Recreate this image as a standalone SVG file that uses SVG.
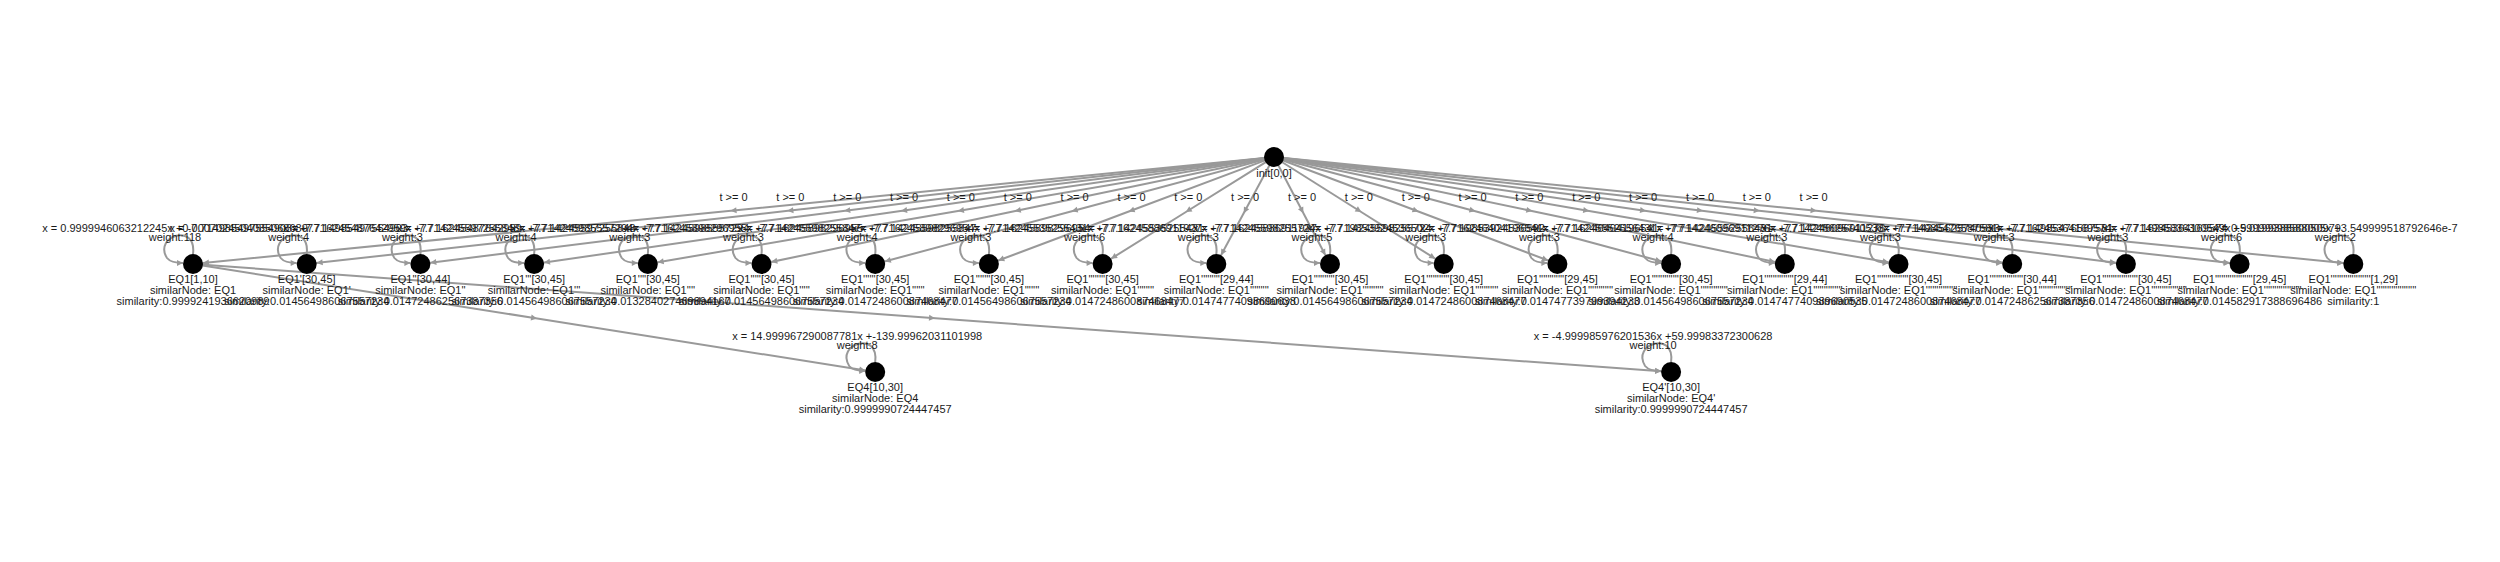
<svg xmlns="http://www.w3.org/2000/svg" width="2500" height="562" viewBox="0 0 2500 562">
<style>
text{font-family:"Liberation Sans",Arial,sans-serif;font-size:11px;fill:#1a1a1a;text-anchor:middle}
.e{fill:none;stroke:#999;stroke-width:2}
.n{fill:#000}
</style>
<defs>
<marker id="am" markerUnits="userSpaceOnUse" orient="auto" overflow="visible" refX="0" refY="0" markerWidth="8" markerHeight="8"><path d="M-3,-3 L3,0 L-3,3 z" fill="#999"/></marker>
<marker id="at" markerUnits="userSpaceOnUse" orient="auto" overflow="visible" refX="16" refY="0" markerWidth="8" markerHeight="8"><path d="M0,-3 L6,0 L0,3 z" fill="#999"/></marker>
<marker id="al" markerUnits="userSpaceOnUse" orient="auto" overflow="visible" refX="0" refY="0" markerWidth="8" markerHeight="8"><path d="M-6,-3 L0,0 L-6,3 z" fill="#999"/></marker>
</defs>
<rect width="2500" height="562" fill="#fff"/>
<g id="connectors">
<path class="e" marker-mid="url(#am)" marker-end="url(#at)" d="M1274,157 L733.5,210.5 L193,264"/>
<path class="e" marker-mid="url(#am)" marker-end="url(#at)" d="M1274,157 L790.35,210.5 L306.7,264"/>
<path class="e" marker-mid="url(#am)" marker-end="url(#at)" d="M1274,157 L847.2,210.5 L420.4,264"/>
<path class="e" marker-mid="url(#am)" marker-end="url(#at)" d="M1274,157 L904.05,210.5 L534.1,264"/>
<path class="e" marker-mid="url(#am)" marker-end="url(#at)" d="M1274,157 L960.9,210.5 L647.8,264"/>
<path class="e" marker-mid="url(#am)" marker-end="url(#at)" d="M1274,157 L1017.75,210.5 L761.5,264"/>
<path class="e" marker-mid="url(#am)" marker-end="url(#at)" d="M1274,157 L1074.6,210.5 L875.2,264"/>
<path class="e" marker-mid="url(#am)" marker-end="url(#at)" d="M1274,157 L1131.45,210.5 L988.9,264"/>
<path class="e" marker-mid="url(#am)" marker-end="url(#at)" d="M1274,157 L1188.3,210.5 L1102.6,264"/>
<path class="e" marker-mid="url(#am)" marker-end="url(#at)" d="M1274,157 L1245.15,210.5 L1216.3,264"/>
<path class="e" marker-mid="url(#am)" marker-end="url(#at)" d="M1274,157 L1302,210.5 L1330,264"/>
<path class="e" marker-mid="url(#am)" marker-end="url(#at)" d="M1274,157 L1358.85,210.5 L1443.7,264"/>
<path class="e" marker-mid="url(#am)" marker-end="url(#at)" d="M1274,157 L1415.7,210.5 L1557.4,264"/>
<path class="e" marker-mid="url(#am)" marker-end="url(#at)" d="M1274,157 L1472.55,210.5 L1671.1,264"/>
<path class="e" marker-mid="url(#am)" marker-end="url(#at)" d="M1274,157 L1529.4,210.5 L1784.8,264"/>
<path class="e" marker-mid="url(#am)" marker-end="url(#at)" d="M1274,157 L1586.25,210.5 L1898.5,264"/>
<path class="e" marker-mid="url(#am)" marker-end="url(#at)" d="M1274,157 L1643.1,210.5 L2012.2,264"/>
<path class="e" marker-mid="url(#am)" marker-end="url(#at)" d="M1274,157 L1699.95,210.5 L2125.9,264"/>
<path class="e" marker-mid="url(#am)" marker-end="url(#at)" d="M1274,157 L1756.8,210.5 L2239.6,264"/>
<path class="e" marker-mid="url(#am)" marker-end="url(#at)" d="M1274,157 L1813.65,210.5 L2353.3,264"/>
<path class="e" marker-mid="url(#am)" marker-end="url(#at)" d="M193,264 L534.1,318 L875.2,372"/>
<path class="e" marker-mid="url(#am)" marker-end="url(#at)" d="M193,264 L932.05,318 L1671.1,372"/>
<g>
<text x="733.5" y="201">t &gt;= 0</text><text x="790.35" y="201">t &gt;= 0</text><text x="847.2" y="201">t &gt;= 0</text><text x="904.05" y="201">t &gt;= 0</text><text x="960.9" y="201">t &gt;= 0</text><text x="1017.75" y="201">t &gt;= 0</text><text x="1074.6" y="201">t &gt;= 0</text><text x="1131.45" y="201">t &gt;= 0</text><text x="1188.3" y="201">t &gt;= 0</text><text x="1245.15" y="201">t &gt;= 0</text><text x="1302" y="201">t &gt;= 0</text><text x="1358.85" y="201">t &gt;= 0</text><text x="1415.7" y="201">t &gt;= 0</text><text x="1472.55" y="201">t &gt;= 0</text><text x="1529.4" y="201">t &gt;= 0</text><text x="1586.25" y="201">t &gt;= 0</text><text x="1643.1" y="201">t &gt;= 0</text><text x="1699.95" y="201">t &gt;= 0</text><text x="1756.8" y="201">t &gt;= 0</text><text x="1813.65" y="201">t &gt;= 0</text>
</g>
<g id="loops">
<g transform="translate(193,264)"><path class="e" marker-end="url(#al)" d="M0,-10 C4,-42 -40,-28 -26,-6 Q-22,-1 -10,-1"/><text x="-18" y="-32">x = 0.9999946063212245x +0.0007024504085068689</text><text x="-18" y="-23">weight:118</text></g>
<g transform="translate(306.7,264)"><path class="e" marker-end="url(#al)" d="M0,-10 C4,-42 -40,-28 -26,-6 Q-22,-1 -10,-1"/><text x="-18" y="-32">x = -7.714985497554903x +77.14985497554903</text><text x="-18" y="-23">weight:4</text></g>
<g transform="translate(420.4,264)"><path class="e" marker-end="url(#al)" d="M0,-10 C4,-42 -40,-28 -26,-6 Q-22,-1 -10,-1"/><text x="-18" y="-32">x = -7.716245487642959x +77.16245487642959</text><text x="-18" y="-23">weight:3</text></g>
<g transform="translate(534.1,264)"><path class="e" marker-end="url(#al)" d="M0,-10 C4,-42 -40,-28 -26,-6 Q-22,-1 -10,-1"/><text x="-18" y="-32">x = -7.714245597255848x +77.14245597255848</text><text x="-18" y="-23">weight:4</text></g>
<g transform="translate(647.8,264)"><path class="e" marker-end="url(#al)" d="M0,-10 C4,-42 -40,-28 -26,-6 Q-22,-1 -10,-1"/><text x="-18" y="-32">x = -7.714245985557294x +77.14245985557294</text><text x="-18" y="-23">weight:3</text></g>
<g transform="translate(761.5,264)"><path class="e" marker-end="url(#al)" d="M0,-10 C4,-42 -40,-28 -26,-6 Q-22,-1 -10,-1"/><text x="-18" y="-32">x = -7.716245898296955x +77.16245898296955</text><text x="-18" y="-23">weight:3</text></g>
<g transform="translate(875.2,264)"><path class="e" marker-end="url(#al)" d="M0,-10 C4,-42 -40,-28 -26,-6 Q-22,-1 -10,-1"/><text x="-18" y="-32">x = -7.714245598255847x +77.14245598255847</text><text x="-18" y="-23">weight:4</text></g>
<g transform="translate(988.9,264)"><path class="e" marker-end="url(#al)" d="M0,-10 C4,-42 -40,-28 -26,-6 Q-22,-1 -10,-1"/><text x="-18" y="-32">x = -7.716245898296954x +77.16245898296954</text><text x="-18" y="-23">weight:3</text></g>
<g transform="translate(1102.6,264)"><path class="e" marker-end="url(#al)" d="M0,-10 C4,-42 -40,-28 -26,-6 Q-22,-1 -10,-1"/><text x="-18" y="-32">x = -7.714245535255431x +77.14245535255431</text><text x="-18" y="-23">weight:6</text></g>
<g transform="translate(1216.3,264)"><path class="e" marker-end="url(#al)" d="M0,-10 C4,-42 -40,-28 -26,-6 Q-22,-1 -10,-1"/><text x="-18" y="-32">x = -7.716245886911927x +77.16245886911927</text><text x="-18" y="-23">weight:3</text></g>
<g transform="translate(1330,264)"><path class="e" marker-end="url(#al)" d="M0,-10 C4,-42 -40,-28 -26,-6 Q-22,-1 -10,-1"/><text x="-18" y="-32">x = -7.714245598255724x +77.14245598255724</text><text x="-18" y="-23">weight:5</text></g>
<g transform="translate(1443.7,264)"><path class="e" marker-end="url(#al)" d="M0,-10 C4,-42 -40,-28 -26,-6 Q-22,-1 -10,-1"/><text x="-18" y="-32">x = -7.719853924536502x +77.19853924536502</text><text x="-18" y="-23">weight:3</text></g>
<g transform="translate(1557.4,264)"><path class="e" marker-end="url(#al)" d="M0,-10 C4,-42 -40,-28 -26,-6 Q-22,-1 -10,-1"/><text x="-18" y="-32">x = -7.716246404196541x +77.16246404196541</text><text x="-18" y="-23">weight:3</text></g>
<g transform="translate(1671.1,264)"><path class="e" marker-end="url(#al)" d="M0,-10 C4,-42 -40,-28 -26,-6 Q-22,-1 -10,-1"/><text x="-18" y="-32">x = -7.714245552556431x +77.14245552556431</text><text x="-18" y="-23">weight:4</text></g>
<g transform="translate(1784.8,264)"><path class="e" marker-end="url(#al)" d="M0,-10 C4,-42 -40,-28 -26,-6 Q-22,-1 -10,-1"/><text x="-18" y="-32">x = -7.714246096911276x +77.14246096911276</text><text x="-18" y="-23">weight:3</text></g>
<g transform="translate(1898.5,264)"><path class="e" marker-end="url(#al)" d="M0,-10 C4,-42 -40,-28 -26,-6 Q-22,-1 -10,-1"/><text x="-18" y="-32">x = -7.714245625740533x +77.14245625740533</text><text x="-18" y="-23">weight:3</text></g>
<g transform="translate(2012.2,264)"><path class="e" marker-end="url(#al)" d="M0,-10 C4,-42 -40,-28 -26,-6 Q-22,-1 -10,-1"/><text x="-18" y="-32">x = -7.714985476587581x +77.14985476587581</text><text x="-18" y="-23">weight:3</text></g>
<g transform="translate(2125.9,264)"><path class="e" marker-end="url(#al)" d="M0,-10 C4,-42 -40,-28 -26,-6 Q-22,-1 -10,-1"/><text x="-18" y="-32">x = -7.716245364169574x +77.16245364169574</text><text x="-18" y="-23">weight:3</text></g>
<g transform="translate(2239.6,264)"><path class="e" marker-end="url(#al)" d="M0,-10 C4,-42 -40,-28 -26,-6 Q-22,-1 -10,-1"/><text x="-18" y="-32">x = -7.714985836300549x +5.019938880050979</text><text x="-18" y="-23">weight:6</text></g>
<g transform="translate(2353.3,264)"><path class="e" marker-end="url(#al)" d="M0,-10 C4,-42 -40,-28 -26,-6 Q-22,-1 -10,-1"/><text x="-18" y="-32">x = 0.99999998588005x +3.549999518792646e-7</text><text x="-18" y="-23">weight:2</text></g>
<g transform="translate(875.2,372)"><path class="e" marker-end="url(#al)" d="M0,-10 C4,-42 -40,-28 -26,-6 Q-22,-1 -10,-1"/><text x="-18" y="-32">x = 14.999967290087781x +-139.99962031101998</text><text x="-18" y="-23">weight:8</text></g>
<g transform="translate(1671.1,372)"><path class="e" marker-end="url(#al)" d="M0,-10 C4,-42 -40,-28 -26,-6 Q-22,-1 -10,-1"/><text x="-18" y="-32">x = -4.999985976201536x +59.99983372300628</text><text x="-18" y="-23">weight:10</text></g>
</g>
</g>
<g id="init"><circle class="n" cx="1274" cy="157" r="10"/><text x="1274" y="177">init[0,0]</text></g>
<g id="EQ1_0" transform="translate(193,264)"><circle class="n" r="10"/><text y="19">EQ1[1,10]</text><text y="30">similarNode: EQ1</text><text y="41">similarity:0.9999241936620989</text></g>
<g id="EQ1_1" transform="translate(306.7,264)"><circle class="n" r="10"/><text y="19">EQ1'[30,45]</text><text y="30">similarNode: EQ1'</text><text y="41">similarity:0.014564986067557234</text></g>
<g id="EQ1_2" transform="translate(420.4,264)"><circle class="n" r="10"/><text y="19">EQ1''[30,44]</text><text y="30">similarNode: EQ1''</text><text y="41">similarity:0.014724862567387356</text></g>
<g id="EQ1_3" transform="translate(534.1,264)"><circle class="n" r="10"/><text y="19">EQ1'''[30,45]</text><text y="30">similarNode: EQ1'''</text><text y="41">similarity:0.014564986067557234</text></g>
<g id="EQ1_4" transform="translate(647.8,264)"><circle class="n" r="10"/><text y="19">EQ1''''[30,45]</text><text y="30">similarNode: EQ1''''</text><text y="41">similarity:0.013284027469894167</text></g>
<g id="EQ1_5" transform="translate(761.5,264)"><circle class="n" r="10"/><text y="19">EQ1'''''[30,45]</text><text y="30">similarNode: EQ1'''''</text><text y="41">similarity:0.014564986067557234</text></g>
<g id="EQ1_6" transform="translate(875.2,264)"><circle class="n" r="10"/><text y="19">EQ1''''''[30,45]</text><text y="30">similarNode: EQ1''''''</text><text y="41">similarity:0.014724860087468477</text></g>
<g id="EQ1_7" transform="translate(988.9,264)"><circle class="n" r="10"/><text y="19">EQ1'''''''[30,45]</text><text y="30">similarNode: EQ1'''''''</text><text y="41">similarity:0.014564986067557234</text></g>
<g id="EQ1_8" transform="translate(1102.6,264)"><circle class="n" r="10"/><text y="19">EQ1''''''''[30,45]</text><text y="30">similarNode: EQ1''''''''</text><text y="41">similarity:0.014724860087468477</text></g>
<g id="EQ1_9" transform="translate(1216.3,264)"><circle class="n" r="10"/><text y="19">EQ1'''''''''[29,44]</text><text y="30">similarNode: EQ1'''''''''</text><text y="41">similarity:0.01474774098690638</text></g>
<g id="EQ1_10" transform="translate(1330,264)"><circle class="n" r="10"/><text y="19">EQ1''''''''''[30,45]</text><text y="30">similarNode: EQ1''''''''''</text><text y="41">similarity:0.014564986067557234</text></g>
<g id="EQ1_11" transform="translate(1443.7,264)"><circle class="n" r="10"/><text y="19">EQ1'''''''''''[30,45]</text><text y="30">similarNode: EQ1'''''''''''</text><text y="41">similarity:0.014724860087468477</text></g>
<g id="EQ1_12" transform="translate(1557.4,264)"><circle class="n" r="10"/><text y="19">EQ1''''''''''''[29,45]</text><text y="30">similarNode: EQ1''''''''''''</text><text y="41">similarity:0.014747739799394233</text></g>
<g id="EQ1_13" transform="translate(1671.1,264)"><circle class="n" r="10"/><text y="19">EQ1'''''''''''''[30,45]</text><text y="30">similarNode: EQ1'''''''''''''</text><text y="41">similarity:0.014564986067557234</text></g>
<g id="EQ1_14" transform="translate(1784.8,264)"><circle class="n" r="10"/><text y="19">EQ1''''''''''''''[29,44]</text><text y="30">similarNode: EQ1''''''''''''''</text><text y="41">similarity:0.014747740989690535</text></g>
<g id="EQ1_15" transform="translate(1898.5,264)"><circle class="n" r="10"/><text y="19">EQ1'''''''''''''''[30,45]</text><text y="30">similarNode: EQ1'''''''''''''''</text><text y="41">similarity:0.014724860087468477</text></g>
<g id="EQ1_16" transform="translate(2012.2,264)"><circle class="n" r="10"/><text y="19">EQ1''''''''''''''''[30,44]</text><text y="30">similarNode: EQ1''''''''''''''''</text><text y="41">similarity:0.014724862567387356</text></g>
<g id="EQ1_17" transform="translate(2125.9,264)"><circle class="n" r="10"/><text y="19">EQ1'''''''''''''''''[30,45]</text><text y="30">similarNode: EQ1'''''''''''''''''</text><text y="41">similarity:0.014724860087468477</text></g>
<g id="EQ1_18" transform="translate(2239.6,264)"><circle class="n" r="10"/><text y="19">EQ1''''''''''''''''''[29,45]</text><text y="30">similarNode: EQ1''''''''''''''''''</text><text y="41">similarity:0.014582917388696486</text></g>
<g id="EQ1_19" transform="translate(2353.3,264)"><circle class="n" r="10"/><text y="19">EQ1'''''''''''''''''''[1,29]</text><text y="30">similarNode: EQ1'''''''''''''''''''</text><text y="41">similarity:1</text></g>
<g id="EQ4" transform="translate(875.2,372)"><circle class="n" r="10"/><text y="19">EQ4[10,30]</text><text y="30">similarNode: EQ4</text><text y="41">similarity:0.9999990724447457</text></g>
<g id="EQ4p" transform="translate(1671.1,372)"><circle class="n" r="10"/><text y="19">EQ4'[10,30]</text><text y="30">similarNode: EQ4'</text><text y="41">similarity:0.9999990724447457</text></g>
</svg>
